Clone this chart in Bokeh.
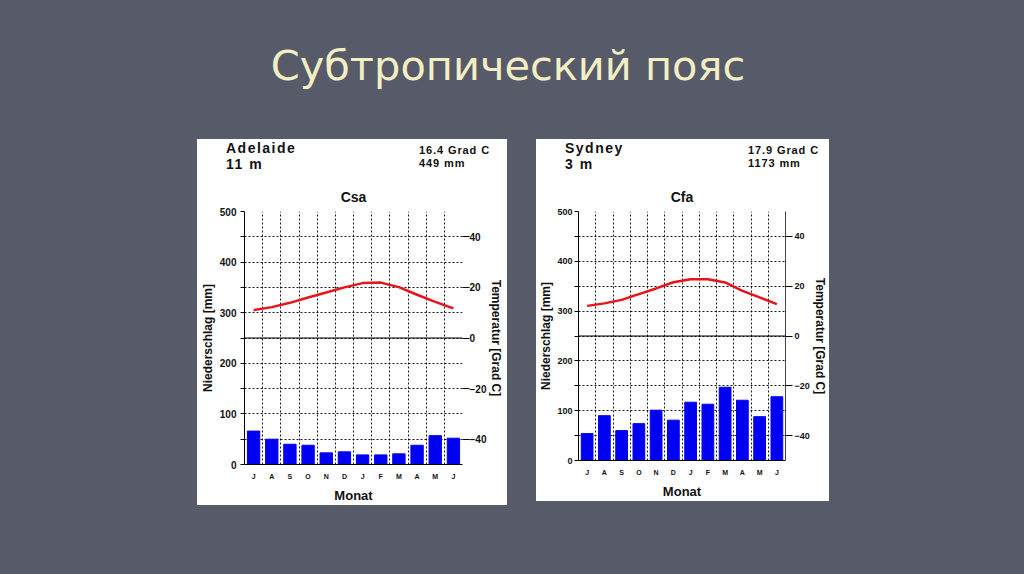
from bokeh.plotting import figure
from bokeh.models import Range1d, LinearAxis, FixedTicker, Span, Div, Spacer
from bokeh.layouts import column, row
from bokeh.embed import file_html
from bokeh.resources import INLINE
from jinja2 import Template

# ---------------- data ----------------
SLIDE_TITLE = "Субтропический пояс"
MONTHS = ["J", "A", "S", "O", "N", "D", "J", "F", "M", "A", "M", "J"]

PRECIP_TICKS = [0, 100, 200, 300, 400, 500]
PRECIP_MINOR = [50, 150, 250, 350, 450]
GRID_LEVELS = [0, 50, 100, 150, 200, 250, 300, 350, 400, 450, 500]
TEMP_TICKS = [-40, -20, 0, 20, 40]

ADELAIDE_NAME = "Adelaide"
ADELAIDE_ELEV = "11 m"
ADELAIDE_TMEAN = "16.4 Grad C"
ADELAIDE_PSUM = "449 mm"
ADELAIDE_CLASS = "Csa"
ADELAIDE_PRECIP = [66, 50, 40, 38, 23, 25, 19, 19, 21, 38, 57, 52]
ADELAIDE_TEMP = [11.0, 12.2, 13.9, 16.0, 18.0, 20.0, 21.7, 21.9, 20.1, 17.1, 14.3, 11.7]

SYDNEY_NAME = "Sydney"
SYDNEY_ELEV = "3 m"
SYDNEY_TMEAN = "17.9 Grad C"
SYDNEY_PSUM = "1173 mm"
SYDNEY_CLASS = "Cfa"
SYDNEY_PRECIP = [54, 90, 60, 74, 101, 81, 117, 113, 147, 121, 88, 128]
SYDNEY_TEMP = [12.1, 13.1, 14.5, 16.8, 19.1, 21.6, 22.8, 22.8, 21.5, 18.1, 15.5, 12.8]

BG = "#575a69"
FONT = "Liberation Sans"


def header(name, elev, tmean, psum, w, h, right_x):
    html = (
        f'<div style="position:relative;width:{w}px;height:{h}px;background:#ffffff;'
        f"font-family:'{FONT}',Arial,sans-serif;font-weight:bold;color:#111;line-height:1;\">"
        f'<span style="position:absolute;left:29px;top:2px;font-size:14px;letter-spacing:1.5px">{name}</span>'
        f'<span style="position:absolute;left:29px;top:18px;font-size:14px;letter-spacing:1.5px">{elev}</span>'
        f'<span style="position:absolute;left:{right_x}px;top:6px;font-size:11px;letter-spacing:0.9px">{tmean}</span>'
        f'<span style="position:absolute;left:{right_x}px;top:19px;font-size:11px;letter-spacing:0.9px">{psum}</span>'
        "</div>"
    )
    return Div(text=html, width=w, height=h, margin=0)


def chart(klass, precip, temps, fw, fh, bl, br, bt, bb, right_line,
          l_std, l_ax_std, r_std, r_ax_std, tick_size):
    pos = [i + 0.5 for i in range(len(MONTHS))]
    p = figure(frame_width=fw, frame_height=fh, x_range=Range1d(0, 12), y_range=Range1d(0, 500),
               output_backend="svg", toolbar_location=None, title=klass,
               min_border_left=bl, min_border_right=br, min_border_top=bt, min_border_bottom=bb,
               background_fill_color="white", border_fill_color="white", outline_line_color=None)
    p.extra_y_ranges = {"temp": Range1d(-50, 50)}

    p.title.align = "center"
    p.title.text_font = FONT
    p.title.text_font_size = "14px"
    p.title.text_font_style = "bold"
    p.title.text_color = "#111"
    p.title.standoff = 13

    # grid
    p.xgrid.ticker = FixedTicker(ticks=list(range(13)))
    p.ygrid.ticker = FixedTicker(ticks=GRID_LEVELS)
    for g in (p.xgrid, p.ygrid):
        g.grid_line_color = "black"
        g.grid_line_dash = "2 2"
        g.grid_line_width = 1
        g.grid_line_alpha = 0.9
    p.add_layout(Span(location=0, y_range_name="temp", dimension="width",
                      line_color="black", line_width=1))

    # data
    p.vbar(x=pos, top=precip, width=0.68, color="#0000f0")
    p.line(x=pos, y=temps, y_range_name="temp", line_color="#e8141c", line_width=2.5)

    # left axis
    ya = p.yaxis[0]
    ya.ticker = FixedTicker(ticks=PRECIP_TICKS, minor_ticks=PRECIP_MINOR)
    ya.axis_label = "Niederschlag [mm]"

    # right axis
    ra = LinearAxis(y_range_name="temp", ticker=FixedTicker(ticks=TEMP_TICKS),
                    axis_label="Temperatur [Grad C]")
    p.add_layout(ra, "right")

    for ax in (ya, ra):
        ax.major_label_text_font = FONT
        ax.major_label_text_font_size = tick_size
        ax.major_label_text_font_style = "bold"
        ax.major_label_text_color = "#111"
        ax.major_label_text_line_height = 1.0
        ax.major_tick_in = 0
        ax.major_tick_out = 4
        ax.minor_tick_in = 0
        ax.minor_tick_out = 4
        ax.axis_label_text_font = FONT
        ax.axis_label_text_font_size = "12px"
        ax.axis_label_text_font_style = "bold"
        ax.axis_label_text_color = "#111"
        ax.axis_label_text_line_height = 0.8
        ax.axis_line_color = "black"
        ax.major_tick_line_color = "black"
        ax.minor_tick_line_color = "black"
    ya.major_label_standoff = l_std
    ya.axis_label_standoff = l_ax_std
    ra.major_label_standoff = r_std
    ra.axis_label_standoff = r_ax_std
    ra.major_tick_out = 7
    ra.minor_tick_line_color = None
    ra.axis_line_color = right_line

    # bottom axis
    xa = p.xaxis[0]
    xa.ticker = FixedTicker(ticks=pos)
    xa.major_label_overrides = {pv: m for pv, m in zip(pos, MONTHS)}
    xa.major_tick_line_color = None
    xa.minor_tick_line_color = None
    xa.major_tick_out = 0
    xa.major_tick_in = 0
    xa.major_label_standoff = 8
    xa.major_label_text_font = FONT
    xa.major_label_text_font_size = "7px"
    xa.major_label_text_font_style = "bold"
    xa.major_label_text_color = "#111"
    xa.major_label_text_line_height = 1.0
    xa.axis_label = "Monat"
    xa.axis_label_text_font = FONT
    xa.axis_label_text_font_size = "13px"
    xa.axis_label_text_font_style = "bold"
    xa.axis_label_text_color = "#111"
    xa.axis_label_text_line_height = 0.8
    xa.axis_label_standoff = 5
    xa.axis_line_color = "black"
    return p


hdr1 = header(ADELAIDE_NAME, ADELAIDE_ELEV, ADELAIDE_TMEAN, ADELAIDE_PSUM, 309, 40, 222)
fig1 = chart(ADELAIDE_CLASS, ADELAIDE_PRECIP, ADELAIDE_TEMP, 218, 253, 46, 45, 32, 39, None,
             4, 2, 0, 0, "10px")
hdr2 = header(SYDNEY_NAME, SYDNEY_ELEV, SYDNEY_TMEAN, SYDNEY_PSUM, 293, 40, 212)
fig2 = chart(SYDNEY_CLASS, SYDNEY_PRECIP, SYDNEY_TEMP, 207, 249, 42, 44, 32, 38, "#444444",
             2, 1, 2, 0, "9px")

title_div = Div(
    text=(f'<div style="position:relative;width:1016px;height:139px;">'
          f'<div style="position:absolute;left:0;top:45px;width:1016px;text-align:center;'
          f"font-family:'DejaVu Sans',sans-serif;font-size:41.5px;line-height:1;color:#f2efc4;\">"
          f"{SLIDE_TITLE}</div></div>"),
    width=1016, height=139, margin=0)

panel1 = column(hdr1, fig1, spacing=0, margin=0, styles={"background-color": "white"})
panel2 = column(hdr2, fig2, spacing=0, margin=0, styles={"background-color": "white"})

p = column(
    title_div,
    row(Spacer(width=197, height=10, margin=0), panel1,
        Spacer(width=29, height=10, margin=0), panel2,
        spacing=0, margin=0),
    spacing=0, margin=0,
)

PAGE = Template("""{% extends base %}
{% block preamble %}<style>html, body { background-color: """ + BG + """; }</style>{% endblock %}""")

open("out.html", "w").write(file_html(p, INLINE, template=PAGE))
